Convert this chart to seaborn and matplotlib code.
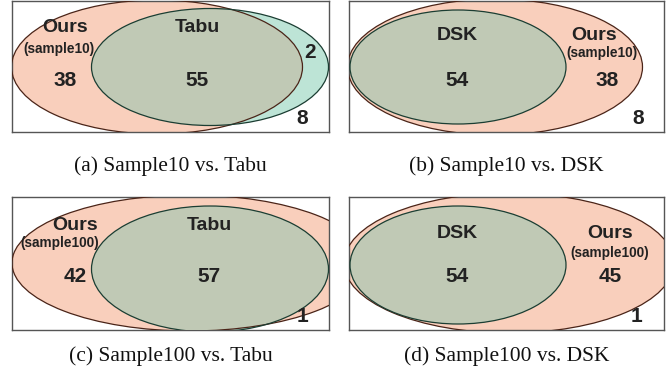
import matplotlib
matplotlib.use("Agg")
import matplotlib.pyplot as plt
from matplotlib.patches import Ellipse
import seaborn as sns

# counts in each region of the venn diagrams
captions = ["(a) Sample10 vs. Tabu", "(b) Sample10 vs. DSK",
            "(c) Sample100 vs. Tabu", "(d) Sample100 vs. DSK"]
other_names = ["Tabu", "DSK", "Tabu", "DSK"]
ours_tags = ["(sample10)", "(sample10)", "(sample100)", "(sample100)"]
only_ours = [38, 38, 42, 45]
shared = [55, 54, 57, 54]
only_other = [2, None, None, None]
neither = [8, 8, 1, 1]

sns.set_style("white")

W, H = 670, 370
fig = plt.figure(figsize=(W / 100, H / 100), dpi=100)

salmon = "#f9cfbc"
teal = "#bde4d6"
mix = "#c0c9b5"
salmon_edge = "#4a2418"
teal_edge = "#1b3d32"
txt = "#222222"
bold = dict(family=["Liberation Sans", "DejaVu Sans"], weight="bold", color=txt,
            ha="center", va="center")

# panel boxes in pixels: left, top, right, bottom
boxes = [(12, 1, 329, 132), (349, 1, 664, 132),
         (12, 197, 329, 330), (349, 197, 664, 330)]
caption_y = [166, 166, 356, 356]

# ellipse geometry (local pixel coords): x, y, width, height
ours_ell = [(145, 66, 291, 134), (146, 66, 295, 136),
            (178, 66, 356, 136), (160, 66, 330, 140)]
other_ell = [(198, 66, 237, 117), (109, 66, 216, 114),
             (198, 72, 237, 126), (109, 68, 216, 118)]

# label positions (local pixels)
pos = [
    dict(ours=(53, 27), tag=(47, 48), n_ours=(53, 79), other=(185, 27), n_shared=(185, 79), n_other=(298, 52), n_neither=(290, 117)),
    dict(ours=(245, 34), tag=(253, 52), n_ours=(258, 79), other=(108, 34), n_shared=(108, 79), n_neither=(289, 117)),
    dict(ours=(63, 28), tag=(48, 46), n_ours=(63, 80), other=(197, 28), n_shared=(197, 80), n_neither=(290, 120)),
    dict(ours=(261, 36), tag=(261, 56), n_ours=(261, 80), other=(108, 36), n_shared=(108, 80), n_neither=(287, 119)),
]

for i, (l, t, r, b) in enumerate(boxes):
    ax = fig.add_axes([l / W, 1 - b / H, (r - l) / W, (b - t) / H])
    ax.set_xlim(0, r - l)
    ax.set_ylim(b - t, 0)
    ax.set_xticks([])
    ax.set_yticks([])
    for s in ax.spines.values():
        s.set_color("#555555")
        s.set_linewidth(1.0)

    ox, oy, ow, oh = ours_ell[i]
    px, py, pw, ph = other_ell[i]
    ax.add_patch(Ellipse((ox, oy), ow, oh, facecolor=salmon, edgecolor="none", zorder=1))
    ax.add_patch(Ellipse((px, py), pw, ph, facecolor=teal, edgecolor="none", zorder=2))
    # overlap region: other ellipse clipped to ours
    e_mix = Ellipse((px, py), pw, ph, facecolor=mix, edgecolor="none", zorder=3)
    ax.add_patch(e_mix)
    e_mix.set_clip_path(Ellipse((ox, oy), ow, oh, transform=ax.transData))
    ax.add_patch(Ellipse((ox, oy), ow, oh, facecolor="none", edgecolor=salmon_edge, lw=0.9, zorder=4))
    ax.add_patch(Ellipse((px, py), pw, ph, facecolor="none", edgecolor=teal_edge, lw=0.9, zorder=5))

    p = pos[i]
    ax.text(*p["ours"], "Ours", fontsize=14, zorder=6, **bold)
    ax.text(*p["tag"], ours_tags[i], fontsize=9.8, zorder=6, **bold)
    ax.text(*p["n_ours"], str(only_ours[i]), fontsize=15, zorder=6, **bold)
    ax.text(*p["other"], other_names[i], fontsize=14, zorder=6, **bold)
    ax.text(*p["n_shared"], str(shared[i]), fontsize=15, zorder=6, **bold)
    if only_other[i] is not None:
        ax.text(*p["n_other"], str(only_other[i]), fontsize=15, zorder=6, **bold)
    ax.text(*p["n_neither"], str(neither[i]), fontsize=15, zorder=6, **bold)

    fig.text(((l + r) / 2) / W, 1 - caption_y[i] / H, captions[i], fontsize=15.5,
             family=["Liberation Serif", "DejaVu Serif"], color="#111111",
             ha="center", va="center")

fig.savefig("out.png", dpi=100)
